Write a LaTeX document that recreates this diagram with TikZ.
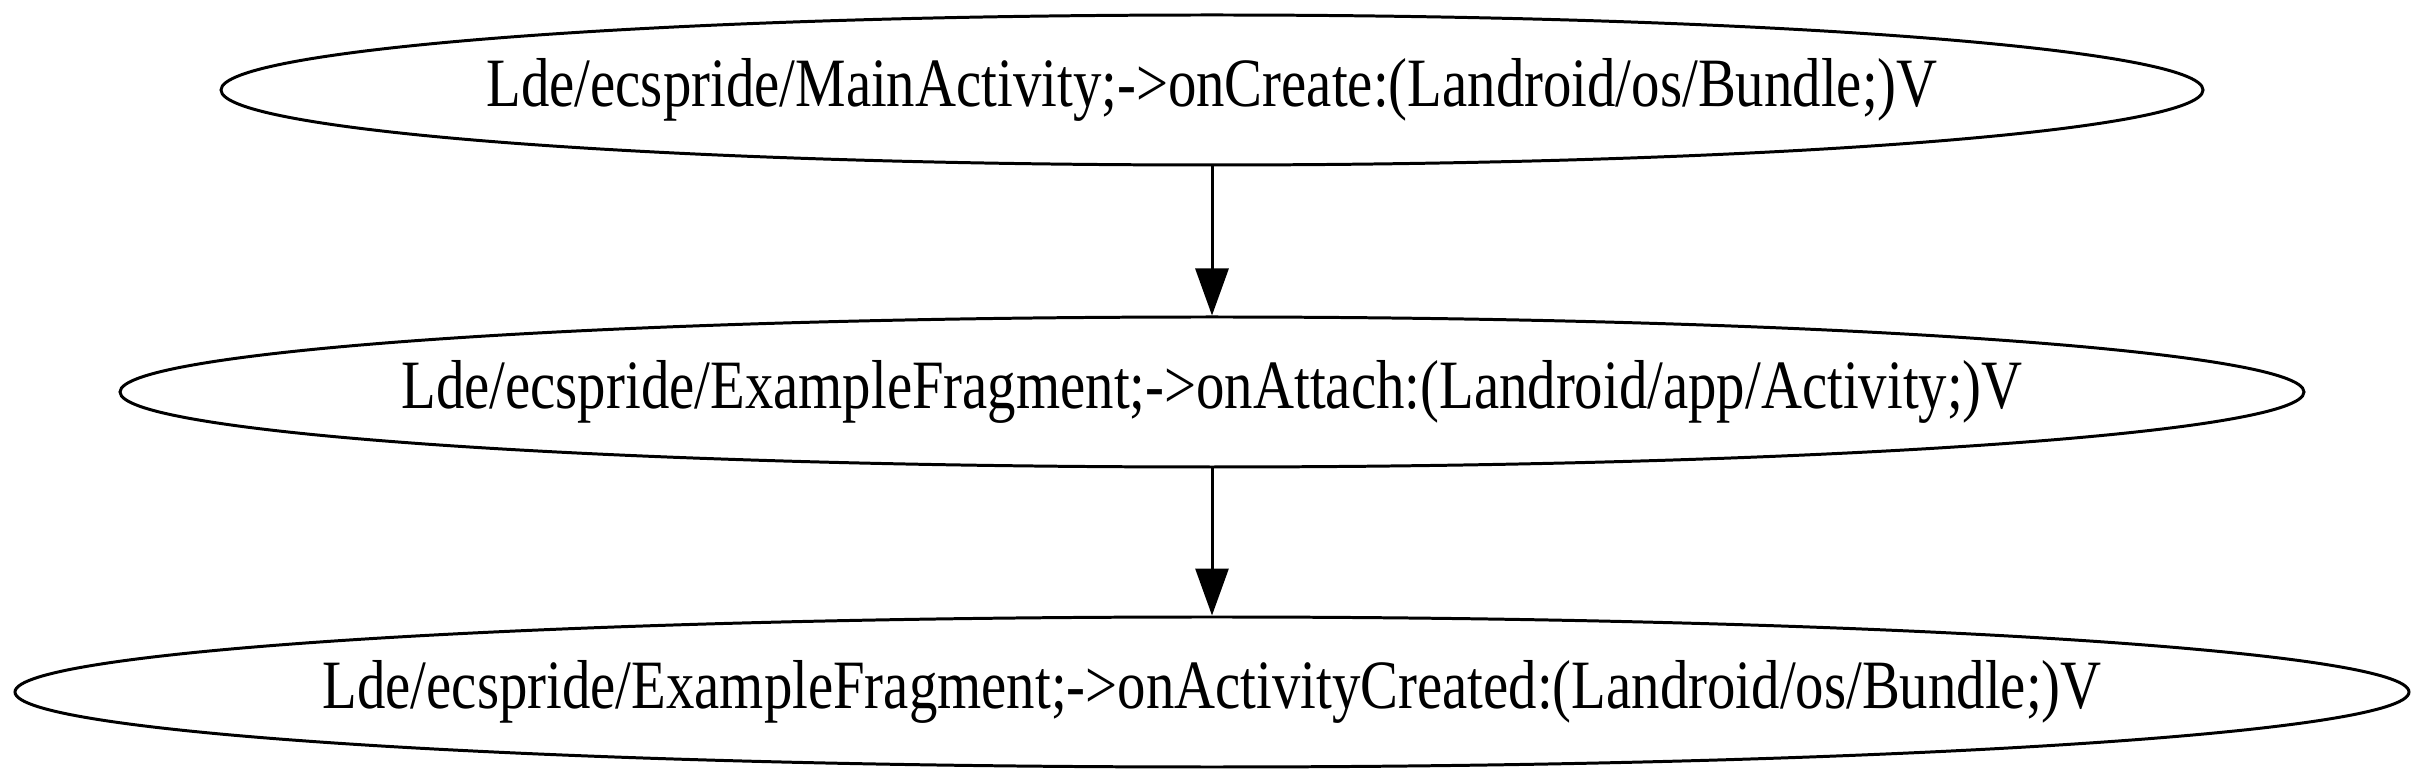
\documentclass[tikz,border=0pt]{standalone}
\usepackage{graphicx}
\usepackage{fontspec}
\setmainfont{Liberation Serif}
\usetikzlibrary{arrows.meta,shapes.geometric}
\newcommand{\lbl}[1]{\makebox[0pt][c]{\raisebox{-0.035cm}{\scalebox{0.82}[1]{#1}}}}
\begin{document}
\begin{tikzpicture}[x=1cm,y=1cm,every node/.style={draw,ellipse,inner sep=0pt,line width=0.85pt,minimum height=1.5cm,font=\fontsize{19.7}{23}\selectfont},>={Triangle[length=0.47cm,width=0.33cm]},line width=0.85pt]
\useasboundingbox (0,0) rectangle (24.27,-7.83);
\node[minimum width=19.82cm] (onCreate) at (12.12,-0.90) {\lbl{Lde/ecspride/MainActivity;->onCreate:(Landroid/os/Bundle;)V}};
\node[minimum width=21.84cm] (onAttach) at (12.12,-3.92) {\lbl{Lde/ecspride/ExampleFragment;->onAttach:(Landroid/app/Activity;)V}};
\node[minimum width=23.94cm] (onActCreated) at (12.12,-6.92) {\lbl{Lde/ecspride/ExampleFragment;->onActivityCreated:(Landroid/os/Bundle;)V}};
\draw[->] (onCreate) -- (onAttach);
\draw[->] (onAttach) -- (onActCreated);
\end{tikzpicture}
\end{document}
